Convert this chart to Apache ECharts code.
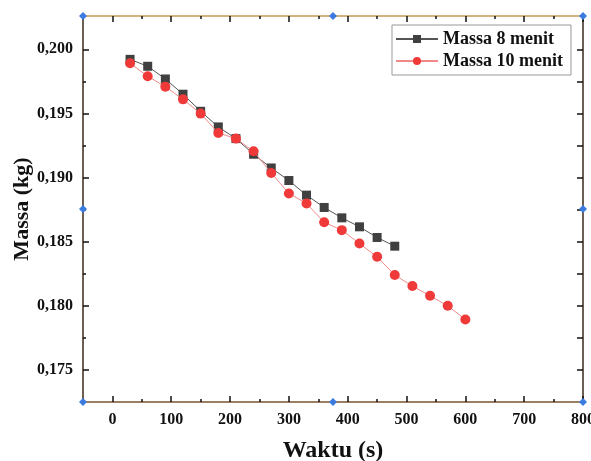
<!DOCTYPE html>
<html>
<head>
<meta charset="utf-8">
<script src="https://cdn.jsdelivr.net/npm/echarts@6/dist/echarts.min.js"></script>
<style>
  html, body { margin: 0; padding: 0; background: #fff; }
  #chart { width: 591px; height: 461px; }
</style>
</head>
<body>
<div id="chart"></div>
<script>
// ---------- data ----------
var waktu8 = [30, 60, 90, 120, 150, 180, 210, 240, 270, 300, 330, 360, 390, 420, 450, 480];
var massa8 = [0.19922, 0.19868, 0.19769, 0.19650, 0.19517, 0.19395, 0.19304, 0.19182,
              0.19075, 0.18977, 0.18863, 0.18767, 0.18686, 0.18616, 0.18533, 0.18465];

var waktu10 = [30, 60, 90, 120, 150, 180, 210, 240, 270, 300, 330, 360, 390, 420, 450,
               480, 510, 540, 570, 600];
var massa10 = [0.19891, 0.19790, 0.19709, 0.19610, 0.19499, 0.19348, 0.19304, 0.19205,
               0.19036, 0.18876, 0.18798, 0.18652, 0.18590, 0.18486, 0.18382, 0.18240,
               0.18154, 0.18078, 0.18000, 0.17894];

var xMajor = [0, 100, 200, 300, 400, 500, 600, 700, 800];
var xMinor = [50, 150, 250, 350, 450, 550, 650, 750];
var yMajor = [0.175, 0.180, 0.185, 0.190, 0.195, 0.200];
var yMinor = [0.1775, 0.1825, 0.1875, 0.1925, 0.1975];

var xRange = [-50, 800];
var yRange = [0.1725, 0.2026];

function pairs(xs, ys) {
    return xs.map(function (x, i) { return [x, ys[i]]; });
}

var serif = 'Liberation Serif';
var labelStyle = { fontFamily: serif, fontWeight: 'bold', fontSize: 16, color: '#111' };

function xAx(pos, ticks, len, lineColor, withLabels) {
    return {
        type: 'value', position: pos, min: xRange[0], max: xRange[1],
        axisLine: { show: !!lineColor, onZero: false, lineStyle: { color: lineColor || '#000', width: 1.5 } },
        axisTick: { show: true, inside: true, length: len, customValues: ticks, lineStyle: { color: '#111', width: 1.5 } },
        axisLabel: withLabels ? Object.assign({ margin: 10, customValues: xMajor }, labelStyle) : { show: false },
        splitLine: { show: false }
    };
}

function yAx(pos, ticks, len, lineColor, withLabels) {
    return {
        type: 'value', position: pos, min: yRange[0], max: yRange[1],
        axisLine: { show: !!lineColor, onZero: false, lineStyle: { color: lineColor || '#000', width: 1.5 } },
        axisTick: { show: true, inside: true, length: len, customValues: ticks, lineStyle: { color: '#111', width: 1.5 } },
        axisLabel: withLabels ? Object.assign({
            margin: 10, customValues: yMajor,
            formatter: function (v) { return v.toFixed(3).replace('.', ','); }
        }, labelStyle) : { show: false },
        splitLine: { show: false }
    };
}

var chart = echarts.init(document.getElementById('chart'));

var xAxes = [
    xAx('bottom', xMajor, 6, '#7a5530', true),
    xAx('bottom', xMinor, 3, null, false),
    xAx('top', xMajor, 6, '#c89858', false),
    xAx('top', xMinor, 3, null, false)
];
xAxes[0].name = 'Waktu (s)';
xAxes[0].nameLocation = 'middle';
xAxes[0].nameGap = 37;
xAxes[0].nameTextStyle = { fontFamily: serif, fontWeight: 'bold', fontSize: 24, color: '#111' };

var yAxes = [
    yAx('left', yMajor, 6, '#3a2a1a', true),
    yAx('left', yMinor, 3, null, false),
    yAx('right', yMajor, 6, '#3a2a1a', false),
    yAx('right', yMinor, 6, null, false)
];
yAxes[0].name = 'Massa (kg)';
yAxes[0].nameLocation = 'middle';
yAxes[0].nameGap = 50;
yAxes[0].nameMoveOverlap = false;
yAxes[0].nameTextStyle = { fontFamily: serif, fontWeight: 'bold', fontSize: 22, color: '#111' };

var option = {
    backgroundColor: '#fff',
    animation: false,
    grid: { left: 83, right: 8, top: 16, bottom: 59, outerBoundsMode: 'none', containLabel: false },
    legend: {
        left: 392, top: 25,
        orient: 'vertical',
        padding: [5, 8, 5, 3],
        itemGap: 4,
        itemWidth: 42,
        itemHeight: 10,
        borderColor: '#999',
        borderWidth: 1,
        textStyle: { fontFamily: serif, fontWeight: 'bold', fontSize: 18, color: '#111' },
        data: ['Massa 8 menit', 'Massa 10 menit']
    },
    xAxis: xAxes,
    yAxis: yAxes,
    series: [
        {
            name: 'Massa 8 menit',
            type: 'line',
            data: pairs(waktu8, massa8),
            symbol: 'rect',
            symbolSize: 9,
            itemStyle: { color: '#404040' },
            lineStyle: { color: '#555', width: 1 },
            z: 3
        },
        {
            name: 'Massa 10 menit',
            type: 'line',
            data: pairs(waktu10, massa10),
            symbol: 'circle',
            symbolSize: 10,
            itemStyle: { color: '#f03a3a' },
            lineStyle: { color: '#f08a8a', width: 1 },
            z: 4
        }
    ]
};

chart.setOption(option);

// blue selection handles on the frame (corners and mid points)
var xs = [xRange[0], (xRange[0] + xRange[1]) / 2, xRange[1]];
var ys = [yRange[1], (yRange[0] + yRange[1]) / 2, yRange[0]];
var handles = [];
ys.forEach(function (yv, j) {
    xs.forEach(function (xv, i) {
        if (i === 1 && j === 1) return;
        var p = chart.convertToPixel({ xAxisIndex: 0, yAxisIndex: 0 }, [xv, yv]);
        handles.push({
            type: 'polygon',
            shape: { points: [[p[0], p[1] - 4], [p[0] + 4, p[1]], [p[0], p[1] + 4], [p[0] - 4, p[1]]] },
            style: { fill: '#3a7be0' },
            z: 10
        });
    });
});
chart.setOption({ graphic: handles });
</script>
</body>
</html>
